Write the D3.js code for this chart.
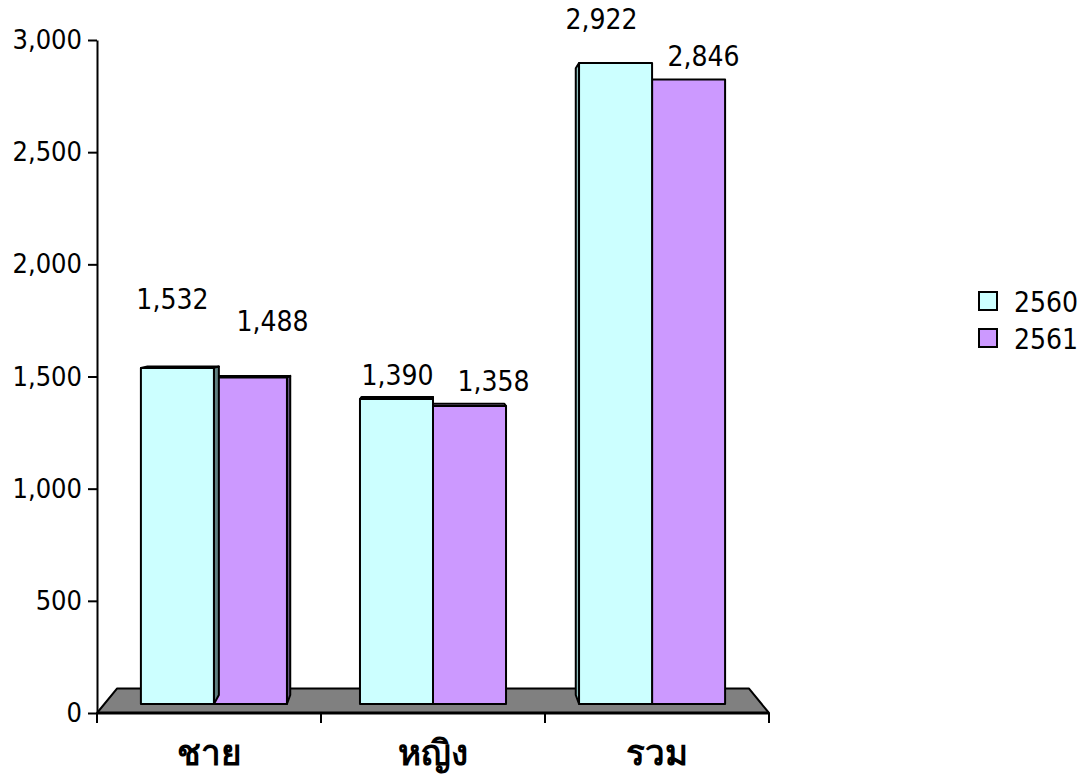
<!DOCTYPE html>
<html>
<head>
<meta charset="utf-8">
<script src="https://cdn.jsdelivr.net/npm/d3@7"></script>
<style>
  body { margin: 0; background: #fff; }
  text { font-family: Tahoma, "DejaVu Sans Condensed", "DejaVu Sans", sans-serif; fill: #000; }
</style>
</head>
<body>
<svg id="chart" width="1083" height="781"></svg>
<script>
// data
const categories = ["ชาย", "หญิง", "รวม"];
const seriesNames = ["2560", "2561"];
const values2560 = [1532, 1390, 2922];
const values2561 = [1488, 1358, 2846];
const yTicks = [0, 500, 1000, 1500, 2000, 2500, 3000];

// styles
const fills = ["#ccffff", "#cc99ff"];
const sideDark = ["#5f8080", "#66557f"];   // right hand side faces
const sideLight = ["#8fbfbf", "#9977bb"];  // left hand side faces
const topFill = ["#e6ffff", "#e0c2ff"];
// the value labels were dragged by hand in the original, so each gets a nudge [dx, dy]
const labelNudge = [
  [[-5, -68], [1, -24], [-14, -43]],
  [[22, -56], [24, -25], [15, -23]]
];

const series = [values2560, values2561];
const svg = d3.select("#chart");

const x = d3.scaleBand().domain(categories).range([97, 769]);
const xInner = d3.scaleBand().domain(seriesNames).range([0, x.bandwidth()]).paddingOuter(0.5);
const y = d3.scaleLinear().domain([0, 3000]).range([713, 40]);

// simple perspective: everything shrinks towards a vanishing point with depth
const vx = (x.range()[0] + x.range()[1]) / 2;
const vy = 304;
const kFront = 0.978, kBack = 0.956, kFloor = 0.94;
function proj(px, py, k) { return [vx + (px - vx) * k, vy + (py - vy) * k]; }
const poly = pts => "M" + pts.map(p => p.join(",")).join("L") + "Z";
const outline = s => s.attr("stroke", "#000").attr("stroke-width", 2).attr("stroke-linejoin", "round");

// floor
const x0 = x.range()[0], x1 = x.range()[1];
svg.append("path")
  .attr("d", poly([proj(x0, y(0), 1), proj(x1, y(0), 1), proj(x1, y(0), kFloor), proj(x0, y(0), kFloor)]))
  .attr("fill", "#808080")
  .call(outline);

// bars, second series first so the first one lies on top (like the original)
categories.forEach((cat, ci) => {
  [1, 0].forEach(si => {
    const v = series[si][ci];
    const l = x(cat) + xInner(seriesNames[si]);
    const r = l + xInner.bandwidth();
    const t = y(v), b = y(0);
    const g = svg.append("g").attr("class", "bar");

    if (proj(0, t, kFront)[1] > vy) {
      g.append("path")
        .attr("d", poly([proj(l, t, kFront), proj(r, t, kFront), proj(r, t, kBack), proj(l, t, kBack)]))
        .attr("fill", topFill[si]).call(outline);
    }
    const centre = (l + r) / 2;
    const edge = centre < vx ? r : l;
    g.append("path")
      .attr("d", poly([proj(edge, t, kFront), proj(edge, t, kBack), proj(edge, b, kBack), proj(edge, b, kFront)]))
      .attr("fill", centre < vx ? sideDark[si] : sideLight[si])
      .call(outline);
    g.append("path")
      .attr("d", poly([proj(l, t, kFront), proj(r, t, kFront), proj(r, b, kFront), proj(l, b, kFront)]))
      .attr("fill", fills[si])
      .call(outline);
  });
});

// value labels
categories.forEach((cat, ci) => {
  [0, 1].forEach(si => {
    const v = series[si][ci];
    const l = x(cat) + xInner(seriesNames[si]);
    const p = proj(l + xInner.bandwidth() / 2, y(v), kFront);
    const n = labelNudge[si][ci];
    svg.append("text")
      .attr("x", p[0] + n[0])
      .attr("y", p[1] + n[1])
      .attr("text-anchor", "middle")
      .attr("dominant-baseline", "central")
      .attr("font-size", 28)
      .text(d3.format(",")(v));
  });
});

// y axis
const yAxis = svg.append("g")
  .attr("transform", "translate(" + x0 + ",0)")
  .call(d3.axisLeft(y).tickValues(yTicks).tickFormat(d3.format(",")).tickSize(9).tickSizeOuter(0).tickPadding(6));
yAxis.select(".domain").attr("stroke", "#000").attr("stroke-width", 2);
yAxis.selectAll(".tick line").attr("stroke", "#000").attr("stroke-width", 2);
yAxis.selectAll(".tick text").attr("font-size", 27).attr("font-family", null);

// x axis: line along the floor front edge, ticks at category boundaries
svg.append("line")
  .attr("x1", x0).attr("x2", x1).attr("y1", y(0)).attr("y2", y(0))
  .attr("stroke", "#000").attr("stroke-width", 3);
svg.selectAll(".xtick")
  .data(categories.map(c => x(c)).concat([x1]))
  .enter().append("line")
  .attr("class", "xtick")
  .attr("x1", d => d).attr("x2", d => d)
  .attr("y1", y(0)).attr("y2", y(0) + 10)
  .attr("stroke", "#000").attr("stroke-width", 2);
svg.selectAll(".xlabel")
  .data(categories)
  .enter().append("text")
  .attr("class", "xlabel")
  .attr("x", d => x(d) + x.bandwidth() / 2)
  .attr("y", 753)
  .attr("text-anchor", "middle")
  .attr("dominant-baseline", "central")
  .attr("font-size", 35)
  .attr("font-weight", "bold")
  .text(d => d);

// legend
const legend = svg.selectAll(".legend")
  .data(seriesNames)
  .enter().append("g")
  .attr("class", "legend")
  .attr("transform", (d, i) => "translate(979," + (292 + i * 37) + ")");
legend.append("rect")
  .attr("width", 18).attr("height", 18)
  .attr("fill", (d, i) => fills[i])
  .attr("stroke", "#000").attr("stroke-width", 2);
legend.append("text")
  .attr("x", 35).attr("y", 10)
  .attr("dominant-baseline", "central")
  .attr("font-size", 28)
  .text(d => d);
</script>
</body>
</html>
